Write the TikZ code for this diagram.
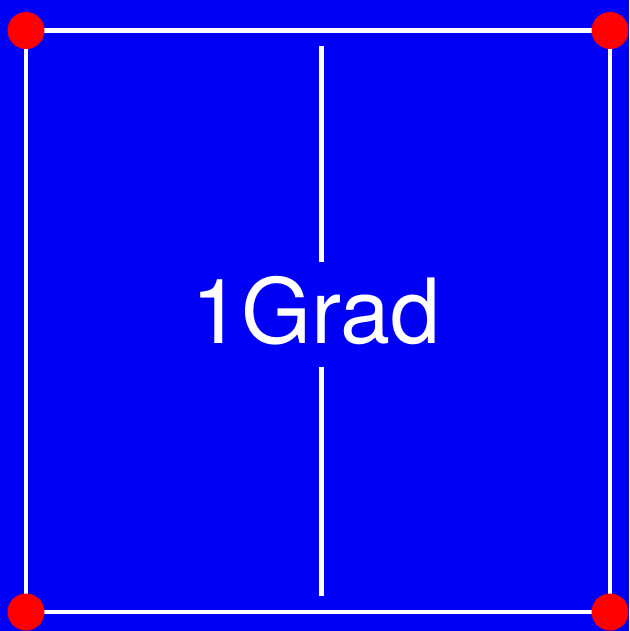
\documentclass[tikz,border=0pt]{standalone}
\usepackage{fontspec}
\setmainfont{TeX Gyre Heros}
\definecolor{bgblue}{RGB}{0,0,245}
\definecolor{dotred}{RGB}{255,0,0}
\tikzset{
  frameline/.style={draw=white, line width=4.5pt},
  cornerdot/.style={circle, fill=dotred, minimum size=37pt, inner sep=0pt},
  label/.style={text=white, font=\fontsize{90}{90}\selectfont, inner sep=0pt}
}
\begin{document}
\begin{tikzpicture}[x=1pt,y=-1pt]
\fill[bgblue] (0,0) rectangle (629,631);
\useasboundingbox (0,0) rectangle (629,631);
\coordinate (tl) at (26,30.5);
\coordinate (tr) at (610,30.5);
\coordinate (br) at (610,612);
\coordinate (bl) at (26,612);
\draw[frameline] (tl) -- (tr) -- (br) -- (bl) -- cycle;
\coordinate (vt) at (321.5,46);
\coordinate (vm1) at (321.5,262);
\coordinate (vm2) at (321.5,367);
\coordinate (vb) at (321.5,596);
\draw[frameline] (vt) -- (vm1);
\draw[frameline] (vm2) -- (vb);
\node[label, anchor=base] (txt) at (316,343) {1Grad};
\node[cornerdot] (dtl) at (tl) {};
\node[cornerdot] (dtr) at (tr) {};
\node[cornerdot] (dbr) at (br) {};
\node[cornerdot] (dbl) at (bl) {};
\end{tikzpicture}
\end{document}
